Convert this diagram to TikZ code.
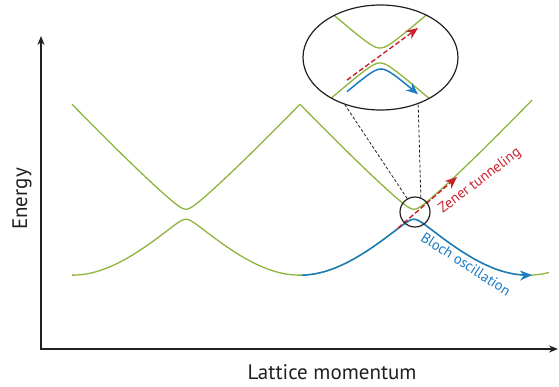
\documentclass[tikz,border=0pt]{standalone}
\usepackage{fontspec}
\setmainfont{PT Sans}
\usetikzlibrary{
  arrows.meta,
  shapes.geometric,
  positioning
}
\definecolor{bdBand}{HTML}{8DB43E}
\definecolor{bdBloch}{HTML}{1B7BC2}
\definecolor{bdZener}{HTML}{C9212E}
\definecolor{bdAxis}{HTML}{231F20}
\tikzset{
  band/.style={line width=1.3pt, bdBand},
  bloch/.style={line width=1.5pt, bdBloch, -{Stealth[length=12pt, width=10pt]}},
  zener/.style={line width=1.4pt, bdZener, dash pattern=on 5pt off 2.5pt, -{Stealth[length=12pt, width=10pt]}},
  axisline/.style={line width=2.2pt, bdAxis, line join=miter,
    {Stealth[length=9pt, width=7pt]}-{Stealth[length=9pt, width=7pt]}},
  lens/.style={draw=bdAxis, line width=1.2pt, inner sep=0pt},
  guide/.style={bdAxis, line width=0.8pt, dash pattern=on 3pt off 2pt},
  axislabel/.style={font=\fontsize{21}{25}\selectfont, text=bdAxis},
  tag/.style={font=\fontsize{14.5}{17}\selectfont},
  % free dispersion and the two coupled bands
  declare function={
    free(\d)=11*(sqrt(((\d)/10)*((\d)/10)+81)-9);
    bandlo(\a,\b)=((\a)+(\b))/2-sqrt((((\a)-(\b))/2)*(((\a)-(\b))/2)+25);
    bandhi(\a,\b)=((\a)+(\b))/2+sqrt((((\a)-(\b))/2)*(((\a)-(\b))/2)+25);
    lensgap(\u)=sqrt((0.86*(\u))*(0.86*(\u))+56);
  }
}
\begin{document}
\begin{tikzpicture}[x=1pt, y={(0,-1pt)}]
  \useasboundingbox (0,0) rectangle (559,386);

  % axes
  \coordinate (origin) at (41,349);
  \coordinate (ytip) at (41,36);
  \coordinate (xtip) at (558,349);
  \draw[axisline] (ytip) -- (origin) -- (xtip);
  \node[axislabel, rotate=90] (elabel) at (22,199) {Energy};
  \node[axislabel] (klabel) at (332,372) {Lattice momentum};

  % bands
  \draw[band] plot[domain=72:300, samples=115] (\x, {275-bandlo(free(\x-72),free(300-\x))});
  \draw[band] plot[domain=300:549, samples=125] (\x, {275-bandlo(free(\x-300),free(528-\x))});
  \draw[band] plot[domain=72:300, samples=115] (\x, {275-bandhi(free(\x-72),free(300-\x))});
  \draw[band] plot[domain=300:532, samples=117] (\x, {275-bandhi(free(\x-300),free(528-\x))});

  % Bloch oscillation
  \draw[bloch] plot[domain=302:532, samples=116] (\x, {275-bandlo(free(\x-300),free(528-\x))});

  % Zener tunneling
  \coordinate (zstart) at (398,228);
  \coordinate (zend) at (457,177);
  \draw[zener] (zstart) -- (zend);
  \node[tag, text=bdZener, rotate=37] (zlabel) at (480,181) {Zener tunneling};
  \node[tag, text=bdBloch, rotate=-33] (blabel) at (466,264) {Bloch oscillation};

  % magnified crossing
  \begin{scope}
    \clip (380.5,57.5) ellipse [x radius=77.5, y radius=52.5];
    \draw[band] plot[domain=300:460, samples=81] (\x, {55.5-lensgap(\x-380)});
    \draw[band] plot[domain=300:460, samples=81] (\x, {55.5+lensgap(\x-380)});
  \end{scope}
  \draw[bloch] plot[domain=347:418, samples=36] (\x, {61.5+lensgap(\x-381)});
  \coordinate (zlens1) at (347,80);
  \coordinate (zlens2) at (418,28);
  \draw[zener] (zlens1) -- (zlens2);
  \node[lens, ellipse, minimum width=155pt, minimum height=105pt] (inset) at (380.5,57.5) {};
  \node[lens, circle, minimum size=30pt] (spot) at (415,212) {};
  \draw[guide] (spot.120) -- (inset.233);
  \draw[guide] (spot.68) -- (inset.309);
\end{tikzpicture}
\end{document}
